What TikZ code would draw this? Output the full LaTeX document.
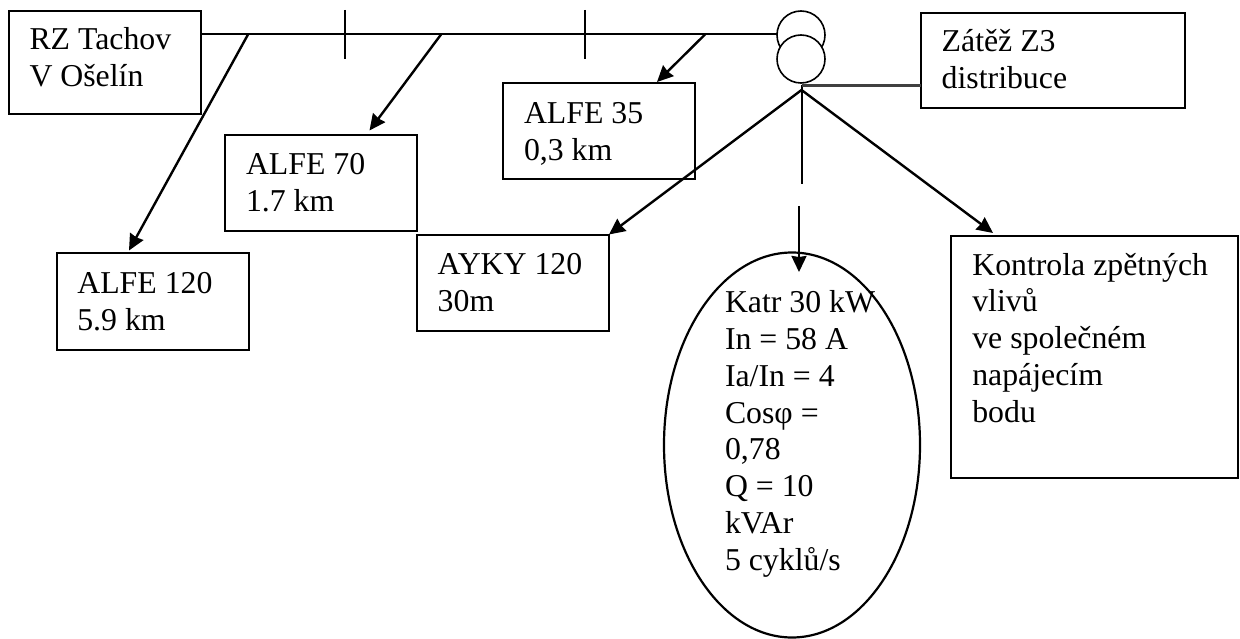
\documentclass[tikz,border=0pt]{standalone}
\usepackage{fontspec}
\setmainfont{Liberation Serif}
\usetikzlibrary{arrows.meta,shapes.geometric}
\newcommand\fl{\rule{0pt}{24pt}}
\begin{document}
\begin{tikzpicture}[x=1pt,y=-1pt,
 box/.style={draw,line width=2pt,inner sep=0pt,outer sep=0pt,anchor=north west},
 txt/.style={anchor=north west,inner sep=0pt,outer sep=0pt,font=\fontsize{31.8}{36.8}\selectfont,align=left},
 wire/.style={line width=2pt},
 arr/.style={line width=2.4pt,-{Stealth[length=16pt,width=15pt,inset=1pt]}}]
\useasboundingbox (0,0) rectangle (1240,639);
\node[box,minimum width=192.5pt,minimum height=103.5pt] (rz) at (8.5,11) {};
\node[txt] (rzt) at (29.5,26) {\fl RZ Tachov\\V Ošelín};
\node[box,minimum width=192.5pt,minimum height=95.5pt] (a70) at (224.5,135.5) {};
\node[txt] (a70t) at (246,151) {\fl ALFE 70\\1.7 km};
\node[box,minimum width=192.5pt,minimum height=96.5pt] (a120) at (56.5,253) {};
\node[txt] (a120t) at (77.3,269.3) {\fl ALFE 120\\5.9 km};
\node[box,minimum width=192.5pt,minimum height=96pt] (a35) at (502.7,83) {};
\node[txt] (a35t) at (524,99.3) {\fl ALFE 35\\0,3 km};
\node[box,minimum width=192.5pt,minimum height=95.5pt] (ayky) at (416.7,235.5) {};
\node[txt] (aykyt) at (437.7,251) {\fl AYKY 120\\30m};
\node[box,minimum width=264.3pt,minimum height=95.5pt] (z3) at (920.7,13) {};
\node[txt] (z3t) at (941.7,27.7) {\fl Zátěž Z3\\distribuce};
\node[box,minimum width=287.3pt,minimum height=242pt] (kon) at (950.7,236) {};
\node[txt] (kont) at (972.3,251) {\fl Kontrola zpětných\\vlivů\\ve společném\\napájecím\\bodu};
\node[draw,line width=2.2pt,ellipse,outer sep=0pt,minimum width=256pt,minimum height=385pt,inner sep=0pt] (el) at (792,445) {};
\node[txt] (elt) at (725,288.6) {\fl Katr 30 kW\\In = 58 A\\Ia/In = 4\\Cosφ =\\0,78\\Q = 10\\kVAr\\5 cyklů/s};
\node[draw,line width=1.6pt,circle,outer sep=0pt,minimum size=48pt,inner sep=0pt] (c1) at (801,35) {};
\node[draw,line width=1.6pt,circle,outer sep=0pt,fill=white,minimum size=48pt,inner sep=0pt] (c2) at (801,59) {};
\coordinate (j1) at (248,34.5);
\coordinate (j2) at (441,34.5);
\coordinate (j3) at (705,34.5);
\coordinate (t1) at (345,10);\coordinate (b1) at (345,59);
\coordinate (t2) at (585,10);\coordinate (b2) at (585,59);
\coordinate (s) at (801.5,90);
\coordinate (s0) at (801.5,85.5);
\coordinate (d1) at (801.5,184);
\coordinate (d2) at (799,206);
\coordinate (p1) at (129,250.5);
\coordinate (p2) at (369.5,130.5);
\coordinate (p3) at (657,82);
\coordinate (p4) at (609,234.5);
\coordinate (p5) at (993,233);
\coordinate (p6) at (799,272);
\draw[wire] (j1 -| rz.east) -- (j1 -| c1.west);
\draw[wire] (t1) -- (b1);
\draw[wire] (t2) -- (b2);
\draw[wire] (s0) -- (d1);
\draw[line width=2.2pt,black!75] (s0) -- (s0 -| z3.west);
\draw[arr] (j1) -- (p1);
\draw[arr] (j2) -- (p2);
\draw[arr] (j3) -- (p3);
\draw[arr] (s) -- (p4);
\draw[arr] (s) -- (p5);
\draw[arr] (d2) -- (p6);
\end{tikzpicture}
\end{document}
